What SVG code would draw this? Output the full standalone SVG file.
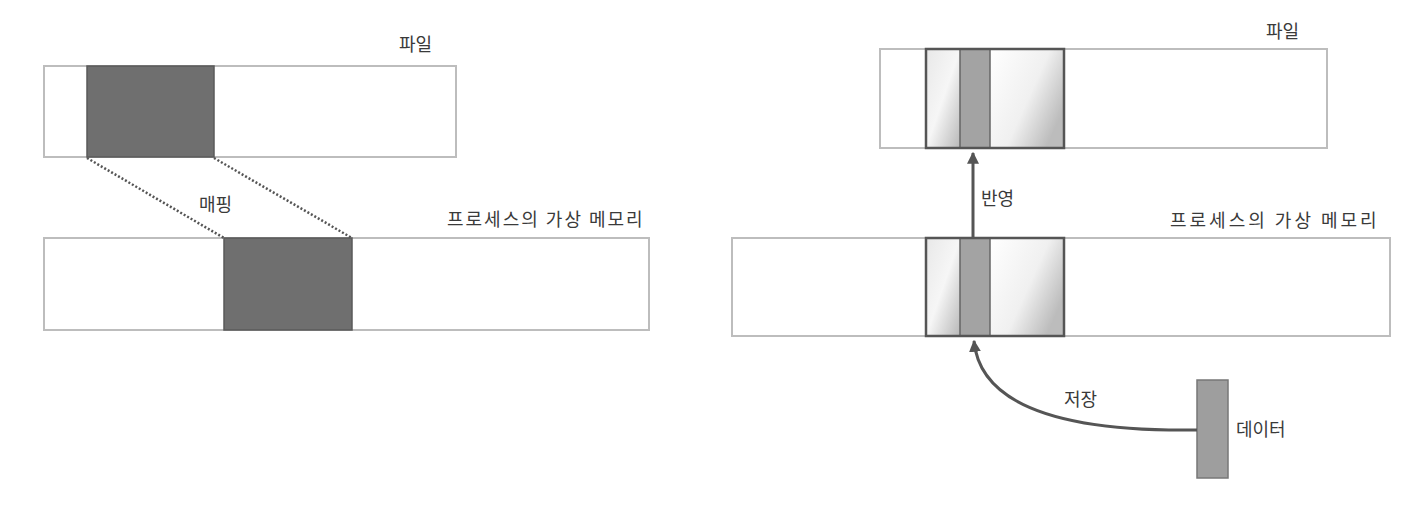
<svg xmlns="http://www.w3.org/2000/svg" width="1414" height="506" viewBox="0 0 1414 506">
<style>
.bar{fill:#fff;stroke:#bdbdbd;stroke-width:2}
.dark{fill:#6f6f6f;stroke:#5a5a5a;stroke-width:1.5}
.frame{fill:none;stroke:#555;stroke-width:2.5}
.band{fill:#a3a3a3;stroke:#666;stroke-width:1.5}
.lbl{font-family:"Noto Sans CJK KR","Noto Sans",sans-serif;font-size:18px;fill:#3a3a3a}
.wide{letter-spacing:2px}
.dot{stroke:#555;stroke-width:2.5;stroke-dasharray:2 2;fill:none}
.conn{stroke:#555;stroke-width:3;fill:none}
</style>
<defs>
<linearGradient id="g1" x1="0" y1="0" x2="1" y2="1">
<stop offset="0" stop-color="#e8e8e8"/><stop offset="0.5" stop-color="#f6f6f6"/><stop offset="1" stop-color="#b8b8b8"/>
</linearGradient>
<linearGradient id="g2" x1="0" y1="0" x2="1" y2="0.6">
<stop offset="0" stop-color="#ffffff"/><stop offset="0.6" stop-color="#f0f0f0"/><stop offset="1" stop-color="#bcbcbc"/>
</linearGradient>
<marker id="ah" viewBox="0 0 10 10" refX="9" refY="5" markerWidth="4" markerHeight="4" orient="auto-start-reverse">
<path d="M0,0 L10,5 L0,10 z" fill="#555"/>
</marker>
</defs>
<rect width="1414" height="506" fill="#fff"/>

<g id="left-file">
<rect class="bar" x="44" y="66" width="412" height="91"/>
<rect class="dark" x="87" y="66" width="127" height="91"/>
<text class="lbl" x="399" y="51">파일</text>
</g>
<g id="left-memory">
<rect class="bar" x="44" y="238" width="605" height="92"/>
<rect class="dark" x="224" y="238" width="128" height="92"/>
<text class="lbl wide" x="447" y="226">프로세스의 가상 메모리</text>
</g>

<g id="right-file">
<rect class="bar" x="880" y="49" width="447" height="99"/>
<rect x="926" y="49" width="34" height="99" fill="url(#g1)"/>
<rect x="990" y="49" width="74" height="99" fill="url(#g2)"/>
<rect class="band" x="960" y="49" width="30" height="99"/>
<rect class="frame" x="926" y="49" width="138" height="99"/>
<text class="lbl" x="1266" y="38">파일</text>
</g>
<g id="right-memory">
<rect class="bar" x="732" y="238" width="658" height="98"/>
<rect x="926" y="238" width="34" height="98" fill="url(#g1)"/>
<rect x="990" y="238" width="74" height="98" fill="url(#g2)"/>
<rect class="band" x="960" y="238" width="30" height="98"/>
<rect class="frame" x="926" y="238" width="138" height="98"/>
<text class="lbl" x="1170" y="227" style="letter-spacing:3px">프로세스의 가상 메모리</text>
</g>
<g id="data">
<rect x="1197" y="380" width="31" height="98" fill="#9e9e9e" stroke="#777" stroke-width="1.5"/>
<text class="lbl" x="1236" y="436">데이터</text>
</g>

<g id="connectors">
<line class="dot" x1="87" y1="158" x2="224" y2="238"/>
<line class="dot" x1="214" y1="158" x2="352" y2="238"/>
<text class="lbl" x="199" y="211">매핑</text>
<line class="conn" x1="973" y1="238" x2="973" y2="153" marker-end="url(#ah)"/>
<text class="lbl" x="981" y="205">반영</text>
<path class="conn" d="M1197,430 C1060,432 980,405 974,341" marker-end="url(#ah)"/>
<text class="lbl" x="1064" y="406">저장</text>
</g>
</svg>
